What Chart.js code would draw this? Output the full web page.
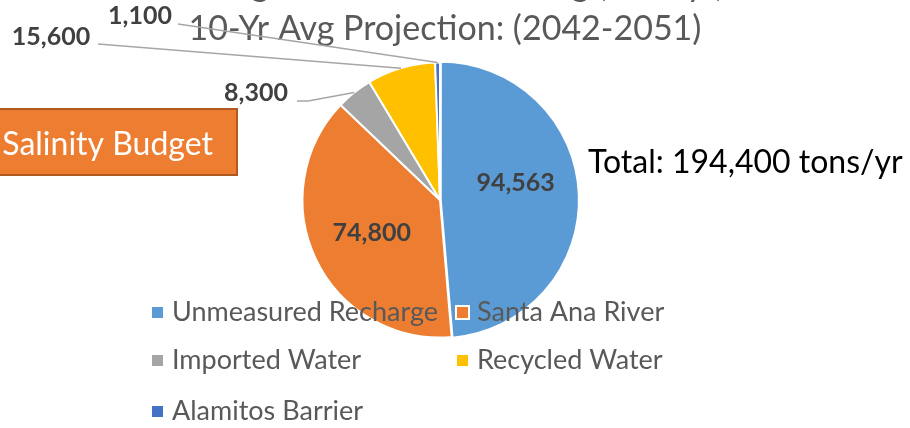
<!DOCTYPE html>
<html>
<head>
<meta charset="utf-8">
<script src="https://cdn.jsdelivr.net/npm/chart.js@4.4.0/dist/chart.umd.min.js"></script>
<style>
  html, body { margin: 0; padding: 0; background: #fff; }
</style>
</head>
<body>
<canvas id="grafica" width="910" height="428"></canvas>
<script>
// datos del grafico
var categorias = ['Unmeasured Recharge', 'Santa Ana River', 'Imported Water', 'Recycled Water', 'Alamitos Barrier'];
var valores = [94563, 74800, 8300, 15600, 1100];
var colores = ['#5B9BD5', '#ED7D31', '#A5A5A5', '#FFC000', '#4472C4'];
var titulo1 = 'Average Annual Salt Loading (tons/yr)';
var titulo2 = '10-Yr Avg Projection: (2042-2051)';
var totalTexto = 'Total: 194,400 tons/yr';
var cajaTexto = 'Salinity Budget';

// etiquetas dentro (indice -> ajuste vertical) y fuera (posicion del texto y del inicio de la guia)
var dentro = { 0: -14, 1: 0 };
var fuera = {
  2: { x: 256, y: 93, guia: [[297, 101], [308, 101]] },
  3: { x: 51, y: 37, guia: [[98, 44]] },
  4: { x: 140, y: 16, guia: [[178, 24]] }
};

function convert(v) {
  return v.toLocaleString('en-US');
}

var extras = {
  id: 'extras',
  afterDraw: function (chart) {
    var ctx = chart.ctx;
    var arcs = chart.getDatasetMeta(0).data;
    ctx.save();

    // titulo (la primera linea queda cortada arriba)
    ctx.fillStyle = '#595959';
    ctx.font = '34px Lato';
    ctx.textAlign = 'center';
    ctx.textBaseline = 'alphabetic';
    ctx.fillText(titulo1, 445, -4);
    ctx.fillText(titulo2, 445, 40);

    // caja naranja
    ctx.fillStyle = '#ED7D31';
    ctx.fillRect(-4, 109, 241, 66);
    ctx.strokeStyle = '#AE5A21';
    ctx.lineWidth = 2;
    ctx.strokeRect(-4, 109, 241, 66);
    ctx.fillStyle = '#ffffff';
    ctx.font = '32px Lato';
    ctx.textAlign = 'right';
    ctx.fillText(cajaTexto, 213, 155);

    // total
    ctx.fillStyle = '#000000';
    ctx.textAlign = 'left';
    ctx.font = '32px Lato';
    ctx.fillText(totalTexto, 588, 173);

    // etiquetas de datos
    ctx.font = 'bold 25px Lato';
    ctx.textAlign = 'center';
    ctx.textBaseline = 'middle';
    arcs.forEach(function (arc, i) {
      var p = arc.getProps(['x', 'y', 'startAngle', 'endAngle', 'outerRadius']);
      var mid = (p.startAngle + p.endAngle) / 2;
      if (dentro[i] !== undefined) {
        ctx.fillStyle = '#404040';
        ctx.fillText(convert(valores[i]), p.x + Math.cos(mid) * p.outerRadius * 0.55,
          p.y + Math.sin(mid) * p.outerRadius * 0.55 + dentro[i]);
      } else if (fuera[i]) {
        var f = fuera[i];
        ctx.strokeStyle = '#A6A6A6';
        ctx.lineWidth = 1.5;
        ctx.beginPath();
        ctx.moveTo(f.guia[0][0], f.guia[0][1]);
        for (var k = 1; k < f.guia.length; k++) ctx.lineTo(f.guia[k][0], f.guia[k][1]);
        ctx.lineTo(p.x + Math.cos(mid) * p.outerRadius, p.y + Math.sin(mid) * p.outerRadius);
        ctx.stroke();
        ctx.fillStyle = '#404040';
        ctx.fillText(convert(valores[i]), f.x, f.y);
      }
    });

    // leyenda en dos columnas
    var colX = [152, 457];
    var filaY = [312, 360, 411];
    ctx.font = '27px Lato';
    ctx.textAlign = 'left';
    ctx.textBaseline = 'middle';
    categorias.forEach(function (c, i) {
      var x = colX[i % 2];
      var y = filaY[Math.floor(i / 2)];
      ctx.fillStyle = colores[i];
      ctx.fillRect(x, y - 5, 11, 11);
      if (i === 1) {
        ctx.strokeStyle = '#ffffff';
        ctx.lineWidth = 2;
        ctx.strokeRect(x - 1, y - 6, 13, 13);
      }
      ctx.fillStyle = '#595959';
      ctx.fillText(c, x + 20, y);
    });

    ctx.restore();
  }
};

var grafica = document.getElementById('grafica');
var ctxgrafica = new Chart(grafica, {
  type: 'pie',
  data: {
    labels: categorias,
    datasets: [{
      data: valores,
      backgroundColor: colores,
      borderColor: '#ffffff',
      borderWidth: 2,
      offset: [3, 0, 0, 0, 0]
    }]
  },
  options: {
    responsive: false,
    animation: false,
    layout: {
      padding: { left: 300, top: 60, right: 330, bottom: 88 }
    },
    plugins: {
      legend: { display: false },
      tooltip: { enabled: false }
    }
  },
  plugins: [extras]
});
</script>
</body>
</html>
